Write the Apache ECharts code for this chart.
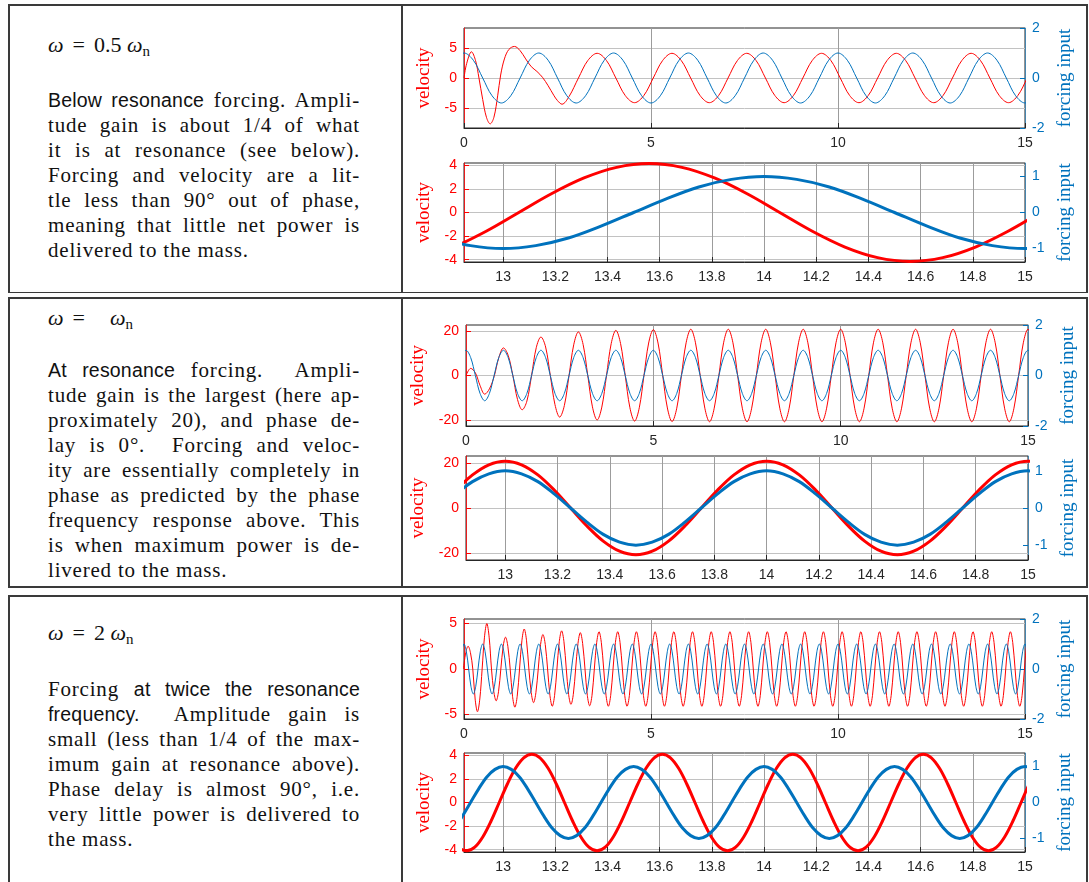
<!DOCTYPE html>
<html>
<head>
<meta charset="utf-8">
<title>Forced response at three forcing frequencies</title>
<script src="https://cdn.jsdelivr.net/npm/echarts@6/dist/echarts.min.js"></script>
<style>
html, body { margin: 0; padding: 0; background: #fff; }
#page { position: relative; width: 1089px; height: 882px; overflow: hidden; background: #fff; }
.rule { position: absolute; background: #3a3a3a; }
.title { position: absolute; left: 48px; font-family: 'Liberation Serif', serif; font-size: 22px; line-height: 28px; color: #111; white-space: nowrap; }
.title i { font-style: italic; }
.title .eq { display: inline-block; margin: 0 9px; }
.title sub { font-size: 15px; vertical-align: -4px; line-height: 0; }
.para { position: absolute; left: 48px; width: 312px; font-family: 'Liberation Serif', serif; font-size: 21px; letter-spacing: 0.8px; color: #111; }
.para div { height: 25px; line-height: 25px; text-align: justify; text-align-last: justify; }
.para div.last { text-align-last: left; }
.sf { font-family: 'Liberation Sans', sans-serif; font-size: 19.5px; letter-spacing: 0.2px; }
#chart { position: absolute; left: 0; top: 0; width: 1089px; height: 882px; }
</style>
</head>
<body>
<div id="page">
  <!-- table frame: three stacked blocks -->
  <div class="rule" style="left:8px;top:4px;width:1080px;height:1.5px"></div>
  <div class="rule" style="left:8px;top:4px;width:1.5px;height:289px"></div>
  <div class="rule" style="left:401px;top:4px;width:1.5px;height:289px"></div>
  <div class="rule" style="left:1086px;top:4px;width:1.5px;height:289px"></div>
  <div class="rule" style="left:8px;top:291.5px;width:1080px;height:1.5px"></div>

  <div class="rule" style="left:8px;top:297px;width:1080px;height:1.5px"></div>
  <div class="rule" style="left:8px;top:297px;width:1.5px;height:290px"></div>
  <div class="rule" style="left:401px;top:297px;width:1.5px;height:290px"></div>
  <div class="rule" style="left:1086px;top:297px;width:1.5px;height:290px"></div>
  <div class="rule" style="left:8px;top:586px;width:1080px;height:1.5px"></div>

  <div class="rule" style="left:8px;top:595px;width:1080px;height:1.5px"></div>
  <div class="rule" style="left:8px;top:595px;width:1.5px;height:290px"></div>
  <div class="rule" style="left:401px;top:595px;width:1.5px;height:290px"></div>
  <div class="rule" style="left:1086px;top:595px;width:1.5px;height:290px"></div>

  <!-- block 1 -->
  <div class="title" style="top:31px"><i>ω</i><span class="eq">=</span>0.5&nbsp;<i>ω</i><sub>n</sub></div>
  <div class="para" style="top:88px">
    <div><span class="sf">Below resonance</span> forcing. Ampli-</div>
    <div>tude gain is about 1/4 of what</div>
    <div>it is at resonance (see below).</div>
    <div>Forcing and velocity are a lit-</div>
    <div>tle less than 90° out of phase,</div>
    <div>meaning that little net power is</div>
    <div class="last">delivered to the mass.</div>
  </div>

  <!-- block 2 -->
  <div class="title" style="top:304px"><i>ω</i><span class="eq">=</span><span style="display:inline-block;width:16px"></span><i>ω</i><sub>n</sub></div>
  <div class="para" style="top:358px">
    <div><span class="sf">At resonance</span> forcing. &nbsp;Ampli-</div>
    <div>tude gain is the largest (here ap-</div>
    <div>proximately 20), and phase de-</div>
    <div>lay is 0°. &nbsp;Forcing and veloc-</div>
    <div>ity are essentially completely in</div>
    <div>phase as predicted by the phase</div>
    <div>frequency response above. This</div>
    <div>is when maximum power is de-</div>
    <div class="last">livered to the mass.</div>
  </div>

  <!-- block 3 -->
  <div class="title" style="top:619px"><i>ω</i><span class="eq">=</span>2&nbsp;<i>ω</i><sub>n</sub></div>
  <div class="para" style="top:677px">
    <div>Forcing <span class="sf">at twice the resonance</span></div>
    <div><span class="sf">frequency.</span> &nbsp;Amplitude gain is</div>
    <div>small (less than 1/4 of the max-</div>
    <div>imum gain at resonance above).</div>
    <div>Phase delay is almost 90°, i.e.</div>
    <div>very little power is delivered to</div>
    <div class="last">the mass.</div>
  </div>

  <div id="chart"></div>
</div>

<script>
// ---------------- tick labels ----------------
const fullTimeTicks = [0, 5, 10, 15];
const zoomTimeTicks = [13, 13.2, 13.4, 13.6, 13.8, 14, 14.2, 14.4, 14.6, 14.8, 15];
const lowVelTicksFull = [-5, 0, 5];
const lowVelTicksZoom = [-4, -2, 0, 2, 4];
const resVelTicks = [-20, 0, 20];
const highVelTicksFull = [-5, 0, 5];
const highVelTicksZoom = [-4, -2, 0, 2, 4];
const forceTicksFull = [-2, 0, 2];
const forceTicksZoom = [-1, 0, 1];

// ---------------- omega = 0.5 omega_n ----------------
// forcing input over the whole run (uniform time grid)
const lowForceFullStart = -0.25, lowForceFullStep = 0.25;
const lowForceFull = [0.71,
  1, 0.71, 0, -0.71, -1, -0.71, 0, 0.71,
  1, 0.71, 0, -0.71, -1, -0.71, 0, 0.71,
  1, 0.71, 0, -0.71, -1, -0.71, 0, 0.71,
  1, 0.71, 0, -0.71, -1, -0.71, 0, 0.71,
  1, 0.71, 0, -0.71, -1, -0.71, 0, 0.71,
  1, 0.71, 0, -0.71, -1, -0.71, 0, 0.71,
  1, 0.71, 0, -0.71, -1, -0.71, 0, 0.71,
  1, 0.71, 0, -0.71, -1, -0.71];
// velocity: start-up transient [t, v] ...
const lowVelStartup = [
  [0, 0], [0.07, 2.4], [0.2, 4.4], [0.31, 2.9], [0.4, 0], [0.5, -3.6], [0.6, -6.6],
  [0.7, -7.7], [0.8, -6.6], [0.9, -3.0], [0.98, 0.5], [1.08, 3.2], [1.2, 4.8],
  [1.35, 5.3], [1.5, 4.6], [1.65, 3.2], [1.8, 1.9], [1.95, 1.1], [2.1, 0.1],
  [2.25, -1.3], [2.4, -2.9], [2.5, -3.8], [2.62, -4.4], [2.81, -3.1]];
// ... then the steady oscillation (uniform time grid)
const lowVelSteadyStart = 3.06, lowVelSteadyStep = 0.25;
const lowVelSteady = [
  0, 2.93, 4.15, 2.93, 0, -2.93, -4.15, -2.93,
  0, 2.93, 4.15, 2.93, 0, -2.93, -4.15, -2.93,
  0, 2.93, 4.15, 2.93, 0, -2.93, -4.15, -2.93,
  0, 2.93, 4.15, 2.93, 0, -2.93, -4.15, -2.93,
  0, 2.93, 4.15, 2.93, 0, -2.93, -4.15, -2.93,
  0, 2.93, 4.15, 2.93, 0, -2.93, -4.15, -2.93,
  0, 2.93];
// last two seconds
const lowForceZoomStart = 12.75, lowForceZoomStep = 0.125;
const lowForceZoom = [-0.71, -0.92, -1, -0.92, -0.71, -0.38, 0, 0.38, 0.71, 0.92, 1,
  0.92, 0.71, 0.38, 0, -0.38, -0.71, -0.92, -1, -0.92, -0.71];
const lowVelZoomStart = 12.56, lowVelZoomStep = 0.125;
const lowVelZoom = [-4.15, -3.83, -2.93, -1.59, 0, 1.59, 2.93, 3.83, 4.15, 3.83, 2.93,
  1.59, 0, -1.59, -2.93, -3.83, -4.15, -3.83, -2.93, -1.59, 0, 1.59];

// ---------------- omega = omega_n ----------------
const resForceFullStart = -0.125, resForceFullStep = 0.125;
const resForceFull = [0.71,
  1, 0.71, 0, -0.71, -1, -0.71, 0, 0.71, 1, 0.71, 0, -0.71, -1, -0.71, 0, 0.71,
  1, 0.71, 0, -0.71, -1, -0.71, 0, 0.71, 1, 0.71, 0, -0.71, -1, -0.71, 0, 0.71,
  1, 0.71, 0, -0.71, -1, -0.71, 0, 0.71, 1, 0.71, 0, -0.71, -1, -0.71, 0, 0.71,
  1, 0.71, 0, -0.71, -1, -0.71, 0, 0.71, 1, 0.71, 0, -0.71, -1, -0.71, 0, 0.71,
  1, 0.71, 0, -0.71, -1, -0.71, 0, 0.71, 1, 0.71, 0, -0.71, -1, -0.71, 0, 0.71,
  1, 0.71, 0, -0.71, -1, -0.71, 0, 0.71, 1, 0.71, 0, -0.71, -1, -0.71, 0, 0.71,
  1, 0.71, 0, -0.71, -1, -0.71, 0, 0.71, 1, 0.71, 0, -0.71, -1, -0.71, 0, 0.71,
  1, 0.71, 0, -0.71, -1, -0.71, 0, 0.71,
  1, 0.71];
const resVelFullStart = 0, resVelFullStep = 0.125;
const resVelFull = [
  // build-up
  0, 3.2, 1.2, -4.5, -8.4, -6.0, -0.5, 8.0,
  12.4, 9.1, 0, -10.8, -15.4, -11.5, 0, 12.5,
  17.3, 12.8, 0, -13.1, -18.7, -13.5, 0, 13.8,
  19.6, 14.0, 0, -14.1, -20.0, -14.2, 0, 14.3,
  20.3, 14.4, 0, -14.5, -20.5, -14.5, 0, 14.6,
  20.6, 14.6, 0, -14.6, -20.7, -14.7, 0, 14.7,
  // steady
  20.8, 14.7, 0, -14.7, -20.8, -14.7, 0, 14.7,
  20.8, 14.7, 0, -14.7, -20.8, -14.7, 0, 14.7,
  20.8, 14.7, 0, -14.7, -20.8, -14.7, 0, 14.7,
  20.8, 14.7, 0, -14.7, -20.8, -14.7, 0, 14.7,
  20.8, 14.7, 0, -14.7, -20.8, -14.7, 0, 14.7,
  20.8, 14.7, 0, -14.7, -20.8, -14.7, 0, 14.7,
  20.8, 14.7, 0, -14.7, -20.8, -14.7, 0, 14.7,
  20.8, 14.7, 0, -14.7, -20.8, -14.7, 0, 14.7,
  20.8, 14.7, 0, -14.7, -20.8, -14.7, 0, 14.7,
  20.8, 14.7, 0];
const resForceZoomStart = 12.75, resForceZoomStep = 0.0625;
const resForceZoom = [
  0, 0.38, 0.71, 0.92, 1, 0.92, 0.71, 0.38, 0, -0.38, -0.71, -0.92, -1, -0.92, -0.71, -0.38,
  0, 0.38, 0.71, 0.92, 1, 0.92, 0.71, 0.38, 0, -0.38, -0.71, -0.92, -1, -0.92, -0.71, -0.38,
  0, 0.38, 0.71, 0.92, 1, 0.92, 0.71];
const resVelZoomStart = 12.75, resVelZoomStep = 0.0625;
const resVelZoom = [
  0, 7.96, 14.7, 19.2, 20.8, 19.2, 14.7, 7.96, 0, -7.96, -14.7, -19.2, -20.8, -19.2, -14.7, -7.96,
  0, 7.96, 14.7, 19.2, 20.8, 19.2, 14.7, 7.96, 0, -7.96, -14.7, -19.2, -20.8, -19.2, -14.7, -7.96,
  0, 7.96, 14.7, 19.2, 20.8, 19.2, 14.7];

// ---------------- omega = 2 omega_n ----------------
const highForceFullStart = -0.0625, highForceFullStep = 0.0625;
const highForceFull = [0.71,
  1, 0.71, 0, -0.71, -1, -0.71, 0, 0.71, 1, 0.71, 0, -0.71, -1, -0.71, 0, 0.71,
  1, 0.71, 0, -0.71, -1, -0.71, 0, 0.71, 1, 0.71, 0, -0.71, -1, -0.71, 0, 0.71,
  1, 0.71, 0, -0.71, -1, -0.71, 0, 0.71, 1, 0.71, 0, -0.71, -1, -0.71, 0, 0.71,
  1, 0.71, 0, -0.71, -1, -0.71, 0, 0.71, 1, 0.71, 0, -0.71, -1, -0.71, 0, 0.71,
  1, 0.71, 0, -0.71, -1, -0.71, 0, 0.71, 1, 0.71, 0, -0.71, -1, -0.71, 0, 0.71,
  1, 0.71, 0, -0.71, -1, -0.71, 0, 0.71, 1, 0.71, 0, -0.71, -1, -0.71, 0, 0.71,
  1, 0.71, 0, -0.71, -1, -0.71, 0, 0.71, 1, 0.71, 0, -0.71, -1, -0.71, 0, 0.71,
  1, 0.71, 0, -0.71, -1, -0.71, 0, 0.71, 1, 0.71, 0, -0.71, -1, -0.71, 0, 0.71,
  1, 0.71, 0, -0.71, -1, -0.71, 0, 0.71, 1, 0.71, 0, -0.71, -1, -0.71, 0, 0.71,
  1, 0.71, 0, -0.71, -1, -0.71, 0, 0.71, 1, 0.71, 0, -0.71, -1, -0.71, 0, 0.71,
  1, 0.71, 0, -0.71, -1, -0.71, 0, 0.71, 1, 0.71, 0, -0.71, -1, -0.71, 0, 0.71,
  1, 0.71, 0, -0.71, -1, -0.71, 0, 0.71, 1, 0.71, 0, -0.71, -1, -0.71, 0, 0.71,
  1, 0.71, 0, -0.71, -1, -0.71, 0, 0.71, 1, 0.71, 0, -0.71, -1, -0.71, 0, 0.71,
  1, 0.71, 0, -0.71, -1, -0.71, 0, 0.71, 1, 0.71, 0, -0.71, -1, -0.71, 0, 0.71,
  1, 0.71, 0, -0.71, -1, -0.71, 0, 0.71, 1, 0.71, 0, -0.71, -1, -0.71, 0, 0.71,
  1, 0.71];
const highVelFullStart = -0.015, highVelFullStep = 0.0625;
const highVelFull = [
  // start-up beating
  0, 1.8, 2.5, 1.8, 0, -3.3, -4.7, -3.3,
  0, 3.5, 5.0, 3.5, 0, -2.5, -3.5, -2.5,
  0, 2.5, 3.5, 2.5, 0, -3.0, -4.2, -3.0,
  0, 3.1, 4.4, 3.1, 0, -2.6, -3.7, -2.6,
  0, 2.7, 3.8, 2.7, 0, -2.9, -4.1, -2.9,
  0, 3.0, 4.2, 3.0, 0, -2.8, -3.9, -2.8,
  0, 2.8, 4.0, 2.8, 0, -2.9, -4.05, -2.9,
  0, 2.9,
  // steady
  4.1, 2.9, 0, -2.9, -4.1, -2.9, 0, 2.9, 4.1, 2.9, 0, -2.9, -4.1, -2.9, 0, 2.9,
  4.1, 2.9, 0, -2.9, -4.1, -2.9, 0, 2.9, 4.1, 2.9, 0, -2.9, -4.1, -2.9, 0, 2.9,
  4.1, 2.9, 0, -2.9, -4.1, -2.9, 0, 2.9, 4.1, 2.9, 0, -2.9, -4.1, -2.9, 0, 2.9,
  4.1, 2.9, 0, -2.9, -4.1, -2.9, 0, 2.9, 4.1, 2.9, 0, -2.9, -4.1, -2.9, 0, 2.9,
  4.1, 2.9, 0, -2.9, -4.1, -2.9, 0, 2.9, 4.1, 2.9, 0, -2.9, -4.1, -2.9, 0, 2.9,
  4.1, 2.9, 0, -2.9, -4.1, -2.9, 0, 2.9, 4.1, 2.9, 0, -2.9, -4.1, -2.9, 0, 2.9,
  4.1, 2.9, 0, -2.9, -4.1, -2.9, 0, 2.9, 4.1, 2.9, 0, -2.9, -4.1, -2.9, 0, 2.9,
  4.1, 2.9, 0, -2.9, -4.1, -2.9, 0, 2.9, 4.1, 2.9, 0, -2.9, -4.1, -2.9, 0, 2.9,
  4.1, 2.9, 0, -2.9, -4.1, -2.9, 0, 2.9, 4.1, 2.9, 0, -2.9, -4.1, -2.9, 0, 2.9,
  4.1, 2.9, 0, -2.9, -4.1, -2.9, 0, 2.9, 4.1, 2.9, 0, -2.9, -4.1, -2.9, 0, 2.9,
  4.1, 2.9, 0, -2.9, -4.1, -2.9, 0, 2.9, 4.1, 2.9, 0, -2.9, -4.1, -2.9, 0, 2.9,
  4.1, 2.9, 0, -2.9, -4.1, -2.9, 0, 2.9,
  4.1, 2.9];
const highForceZoomStart = 12.75, highForceZoomStep = 0.03125;
const highForceZoom = [
  -1, -0.92, -0.71, -0.38, 0, 0.38, 0.71, 0.92, 1, 0.92, 0.71, 0.38, 0, -0.38, -0.71, -0.92,
  -1, -0.92, -0.71, -0.38, 0, 0.38, 0.71, 0.92, 1, 0.92, 0.71, 0.38, 0, -0.38, -0.71, -0.92,
  -1, -0.92, -0.71, -0.38, 0, 0.38, 0.71, 0.92, 1, 0.92, 0.71, 0.38, 0, -0.38, -0.71, -0.92,
  -1, -0.92, -0.71, -0.38, 0, 0.38, 0.71, 0.92, 1, 0.92, 0.71, 0.38, 0, -0.38, -0.71, -0.92,
  -1, -0.92, -0.71, -0.38, 0, 0.38, 0.71, 0.92, 1, 0.92, 0.71, 0.38];
const highVelZoomStart = 12.61, highVelZoomStep = 0.03125;
const highVelZoom = [
  4.1, 3.79, 2.9, 1.57, 0, -1.57, -2.9, -3.79, -4.1, -3.79, -2.9, -1.57, 0, 1.57, 2.9, 3.79,
  4.1, 3.79, 2.9, 1.57, 0, -1.57, -2.9, -3.79, -4.1, -3.79, -2.9, -1.57, 0, 1.57, 2.9, 3.79,
  4.1, 3.79, 2.9, 1.57, 0, -1.57, -2.9, -3.79, -4.1, -3.79, -2.9, -1.57, 0, 1.57, 2.9, 3.79,
  4.1, 3.79, 2.9, 1.57, 0, -1.57, -2.9, -3.79, -4.1, -3.79, -2.9, -1.57, 0, 1.57, 2.9, 3.79,
  4.1, 3.79, 2.9, 1.57, 0, -1.57, -2.9, -3.79, -4.1, -3.79, -2.9, -1.57, 0, 1.57, 2.9, 3.79,
  4.1];

// pair each sample with its time on a uniform grid
function onGrid(start, step, values) {
  return values.map((v, i) => [+(start + i * step).toFixed(5), v]);
}

const INK = '#262626';
const RED = '#ff0000';
const BLUE = '#0072bd';
const SANS = 'Liberation Sans';
const SERIF = 'Liberation Serif';

// one entry per axes box: position, axis extents, data
const panels = [
  { box: { left: 464, top: 28, width: 561, height: 100 }, x: [0, 15], xTicks: fullTimeTicks,
    vel: [-8.4, 8.4], velTicks: lowVelTicksFull, force: [-2, 2], forceTicks: forceTicksFull,
    velData: lowVelStartup.concat(onGrid(lowVelSteadyStart, lowVelSteadyStep, lowVelSteady)),
    forceData: onGrid(lowForceFullStart, lowForceFullStep, lowForceFull), lw: 1 },
  { box: { left: 464, top: 163, width: 561, height: 99 }, x: [12.85, 15], xTicks: zoomTimeTicks,
    vel: [-4.2, 4.2], velTicks: lowVelTicksZoom, force: [-1.375, 1.375], forceTicks: forceTicksZoom,
    velData: onGrid(lowVelZoomStart, lowVelZoomStep, lowVelZoom),
    forceData: onGrid(lowForceZoomStart, lowForceZoomStep, lowForceZoom), lw: 3 },
  { box: { left: 466, top: 325, width: 562, height: 101 }, x: [0, 15], xTicks: fullTimeTicks,
    vel: [-22.7, 22.7], velTicks: resVelTicks, force: [-2, 2], forceTicks: forceTicksFull,
    velData: onGrid(resVelFullStart, resVelFullStep, resVelFull),
    forceData: onGrid(resForceFullStart, resForceFullStep, resForceFull), lw: 1 },
  { box: { left: 466, top: 456, width: 562, height: 104 }, x: [12.85, 15], xTicks: zoomTimeTicks,
    vel: [-23.1, 23.1], velTicks: resVelTicks, force: [-1.4, 1.4], forceTicks: forceTicksZoom,
    velData: onGrid(resVelZoomStart, resVelZoomStep, resVelZoom),
    forceData: onGrid(resForceZoomStart, resForceZoomStep, resForceZoom), lw: 3 },
  { box: { left: 464, top: 619, width: 561, height: 100 }, x: [0, 15], xTicks: fullTimeTicks,
    vel: [-5.5, 5.5], velTicks: highVelTicksFull, force: [-2, 2], forceTicks: forceTicksFull,
    velData: onGrid(highVelFullStart, highVelFullStep, highVelFull),
    forceData: onGrid(highForceFullStart, highForceFullStep, highForceFull), lw: 1 },
  { box: { left: 464, top: 753, width: 561, height: 99 }, x: [12.85, 15], xTicks: zoomTimeTicks,
    vel: [-4.2, 4.2], velTicks: highVelTicksZoom, force: [-1.375, 1.375], forceTicks: forceTicksZoom,
    velData: onGrid(highVelZoomStart, highVelZoomStep, highVelZoom),
    forceData: onGrid(highForceZoomStart, highForceZoomStep, highForceZoom), lw: 3 }
];

const grid = [], xAxis = [], yAxis = [], series = [];
panels.forEach((p, i) => {
  grid.push(Object.assign({ show: true, borderColor: INK, borderWidth: 1, backgroundColor: 'transparent' }, p.box));
  xAxis.push({
    type: 'value', gridIndex: i, min: p.x[0], max: p.x[1],
    axisLine: { show: true, onZero: false, lineStyle: { color: INK, width: 1 } },
    axisTick: { show: true, inside: true, length: 5, customValues: p.xTicks, lineStyle: { color: INK } },
    axisLabel: { customValues: p.xTicks, color: INK, fontFamily: SANS, fontSize: 14, margin: 8 },
    splitLine: { show: true, lineStyle: { color: '#9c9c9c', width: 1 } }
  });
  yAxis.push({
    type: 'value', gridIndex: i, position: 'left', min: p.vel[0], max: p.vel[1],
    name: 'velocity', nameLocation: 'middle', nameRotate: 90, nameGap: 29,
    nameTextStyle: { color: RED, fontFamily: SERIF, fontSize: 19 },
    axisLine: { show: true, onZero: false, lineStyle: { color: RED, width: 1, opacity: 0.8 } },
    axisTick: { show: true, inside: true, length: 5, customValues: p.velTicks, lineStyle: { color: RED } },
    axisLabel: { customValues: p.velTicks, color: RED, fontFamily: SANS, fontSize: 14, margin: 7 },
    splitLine: { show: true, lineStyle: { color: '#c2c2c2', width: 1 } }
  });
  yAxis.push({
    type: 'value', gridIndex: i, position: 'right', min: p.force[0], max: p.force[1],
    name: 'forcing input', nameLocation: 'middle', nameRotate: 90, nameGap: 30,
    nameTextStyle: { color: BLUE, fontFamily: SERIF, fontSize: 19 },
    axisLine: { show: true, onZero: false, lineStyle: { color: BLUE, width: 1, opacity: 0.55 } },
    axisTick: { show: true, inside: true, length: 5, customValues: p.forceTicks, lineStyle: { color: BLUE } },
    axisLabel: { customValues: p.forceTicks, color: BLUE, fontFamily: SANS, fontSize: 14, margin: 7 },
    splitLine: { show: false }
  });
  series.push({
    type: 'line', xAxisIndex: i, yAxisIndex: 2 * i, data: p.velData, smooth: 0.35,
    symbol: 'none', clip: true, lineStyle: { color: RED, width: p.lw }, z: 2
  });
  series.push({
    type: 'line', xAxisIndex: i, yAxisIndex: 2 * i + 1, data: p.forceData, smooth: 0.35,
    symbol: 'none', clip: true, lineStyle: { color: BLUE, width: p.lw }, z: 3
  });
});

const chart = echarts.init(document.getElementById('chart'), null, { renderer: 'canvas' });
chart.setOption({ animation: false, grid, xAxis, yAxis, series });
</script>
</body>
</html>
